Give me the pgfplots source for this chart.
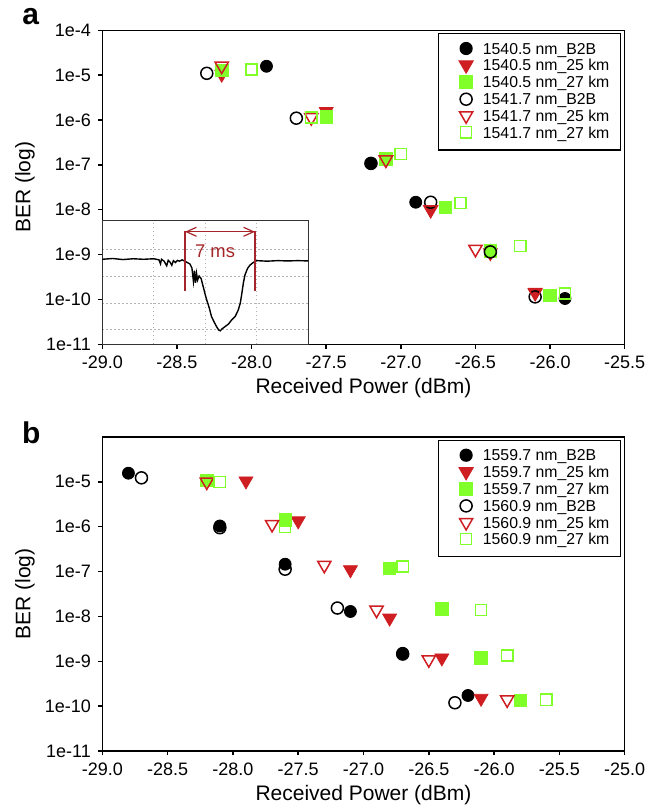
\documentclass[border=0pt]{standalone}
\usepackage{fontspec}
\setmainfont{Liberation Sans}
\usepackage{pgfplots}
\pgfplotsset{compat=1.18}
\usetikzlibrary{arrows.meta}

\definecolor{berred}{RGB}{206,30,34}
\definecolor{bergreen}{RGB}{128,255,40}
\definecolor{annotred}{RGB}{165,38,42}

\begin{document}
\begin{tikzpicture}
\path[use as bounding box] (0pt,0pt) rectangle (330pt,-404pt);

% ---- panel a ----
\begin{axis}[
  scale only axis, width=261.2pt, height=157pt,
  at={(51.15pt,-172.15pt)}, anchor=south west,
  ymode=log, ymin=1e-11, ymax=1e-4,
  yminorticks=false,
  xmin=-29, xmax=-25.5,
  xtick={-29,-28.5,-28,-27.5,-27,-26.5,-26,-25.5},
  xticklabels={-29.0,-28.5,-28.0,-27.5,-27.0,-26.5,-26.0,-25.5},
  ytick={1e-11,1e-10,1e-9,1e-8,1e-7,1e-6,1e-5,1e-4},
  yticklabels={1e-11,1e-10,1e-9,1e-8,1e-7,1e-6,1e-5,1e-4},
  axis line style={line width=0.75pt},
  tick align=outside, tick pos=left,
  major tick length=2.2pt,
  tick style={line width=0.75pt, black},
  tick label style={font=\fontsize{9}{10}\selectfont},
  label style={font=\fontsize{10.5}{12}\selectfont},
  xlabel={Received Power (dBm)}, ylabel={BER (log)},
  xlabel style={at={(axis description cs:0.5,-0.14)}, anchor=center},
  ylabel style={at={(axis description cs:-0.148,0.5)}, anchor=center},
  legend cell align=left,
  legend image code/.code={%
    \path[draw=none, fill=none] (-8.3pt,-1.7pt) rectangle (4pt,3.3pt);
    \draw[#1] plot coordinates {(0pt,0.8pt)};},
  legend style={at={(1,1)}, anchor=north east, xshift=-1.85pt, yshift=-1.4pt,
    draw=black, line width=0.6pt, fill=white,
    inner xsep=5.5pt, inner ysep=4.4pt, row sep=1.1pt,
    nodes={inner sep=0pt},
    /tikz/every odd column/.append style={column sep=4.4pt},
    font=\fontsize{7.9}{8.4}\selectfont},
]
\addplot[only marks, mark=*, mark size=3pt, mark options={draw=black, fill=black}]
  coordinates {(-27.9,1.58e-5) (-27.2,1.08e-7) (-26.9,1.47e-8) (-26.4,1.25e-9) (-25.9,1.05e-10)};
\addlegendentry{1540.5 nm\_B2B}
\addplot[only marks, mark=triangle*, mark size=4pt, mark options={rotate=180, draw=berred, fill=berred}]
  coordinates {(-28.2,1.05e-5) (-27.5,1.55e-6) (-27.1,1.3e-7) (-26.8,1.0e-8) (-26.4,1.1e-9) (-26.1,1.45e-10)};
\addlegendentry{1540.5 nm\_25 km}
\addplot[only marks, mark=square*, mark size=3.1pt, mark options={draw=bergreen, fill=bergreen}]
  coordinates {(-28.2,1.27e-5) (-27.5,1.17e-6) (-27.1,1.35e-7) (-26.7,1.13e-8) (-26.4,1.2e-9) (-26.0,1.25e-10)};
\addlegendentry{1540.5 nm\_27 km}
\addplot[only marks, mark=o, mark size=3pt, mark options={draw=black, line width=0.75pt}]
  coordinates {(-28.3,1.1e-5) (-27.7,1.1e-6) (-27.2,1.08e-7) (-26.8,1.47e-8) (-26.4,1.15e-9) (-26.1,1.14e-10)};
\addlegendentry{1541.7 nm\_B2B}
\addplot[only marks, mark=triangle, mark size=3.8pt, mark options={rotate=180, draw=berred, line width=0.75pt}]
  coordinates {(-28.2,1.6e-5) (-27.6,1.14e-6) (-27.1,1.3e-7) (-26.8,1.0e-8) (-26.5,1.32e-9) (-26.1,1.4e-10)};
\addlegendentry{1541.7 nm\_25 km}
\addplot[only marks, mark=square, mark size=2.8pt, mark options={draw=bergreen, line width=0.75pt}]
  coordinates {(-28.0,1.34e-5) (-27.6,1.14e-6) (-27.0,1.74e-7) (-26.6,1.41e-8) (-26.2,1.56e-9) (-25.9,1.35e-10)};
\addlegendentry{1541.7 nm\_27 km}
\end{axis}

% ---- inset trace ----
\begin{axis}[
  scale only axis, width=103pt, height=61.8pt,
  at={(51.15pt,-172.15pt)}, anchor=south west,
  xmin=0, xmax=4, ymin=0.47, ymax=5.05,
  xtick={1,2,3}, ytick={1,2,3,4},
  xticklabels={}, yticklabels={},
  major tick length=0pt,
  grid=major, grid style={gray!60, dash pattern=on 0.6pt off 1.4pt, line width=0.5pt},
  axis line style={black!80, line width=0.6pt},
  axis background/.style={fill=white},
]
\addplot[black, line width=0.7pt] coordinates {
  (0,3.62) (0.2,3.65) (0.4,3.61) (0.6,3.64) (0.8,3.62) (1.0,3.64) (1.1,3.60)
  (1.13,3.45) (1.15,3.62) (1.2,3.55) (1.25,3.38) (1.28,3.58) (1.32,3.50)
  (1.35,3.40) (1.38,3.57) (1.42,3.50) (1.46,3.58) (1.5,3.55) (1.55,3.60)
  (1.6,3.55) (1.65,3.50) (1.70,3.45) (1.74,3.30) (1.77,2.80) (1.79,3.20)
  (1.81,2.75) (1.83,3.10) (1.85,2.85) (1.88,3.00) (1.92,2.90) (1.96,2.60)
  (2.0,2.30) (2.03,2.10) (2.08,1.80) (2.12,1.50) (2.17,1.30) (2.22,1.12)
  (2.26,1.00) (2.29,0.97) (2.33,1.05) (2.38,1.12) (2.45,1.22) (2.51,1.37)
  (2.58,1.50) (2.64,1.74) (2.68,2.0) (2.71,2.36) (2.74,2.75) (2.77,3.04)
  (2.82,3.28) (2.87,3.41) (2.93,3.50) (3.0,3.57) (3.2,3.55) (3.4,3.57)
  (3.6,3.56) (3.8,3.57) (4.0,3.56)};
\draw[annotred, line width=0.6pt] (axis cs:1.606,2.44) -- (axis cs:1.606,4.68);
\draw[annotred, line width=0.6pt] (axis cs:2.965,2.44) -- (axis cs:2.965,4.68);
\draw[annotred, line width=0.6pt,
  {Straight Barb[length=5pt,width=4.5pt]}-{Straight Barb[length=5pt,width=4.5pt]}]
  (axis cs:1.606,4.64) -- (axis cs:2.965,4.64);
\node[annotred, font=\fontsize{9.2}{10}\selectfont] at (axis cs:2.19,3.9) {7 ms};
\end{axis}

% ---- panel b ----
\begin{axis}[
  scale only axis, width=261.2pt, height=157pt,
  at={(51.15pt,-375.5pt)}, anchor=south west,
  ymode=log, ymin=1e-11, ymax=1e-4,
  yminorticks=false,
  xmin=-29, xmax=-25,
  xtick={-29,-28.5,-28,-27.5,-27,-26.5,-26,-25.5,-25},
  xticklabels={-29.0,-28.5,-28.0,-27.5,-27.0,-26.5,-26.0,-25.5,-25.0},
  ytick={1e-11,1e-10,1e-9,1e-8,1e-7,1e-6,1e-5},
  yticklabels={1e-11,1e-10,1e-9,1e-8,1e-7,1e-6,1e-5},
  axis line style={line width=0.75pt},
  tick align=outside, tick pos=left,
  major tick length=2.2pt,
  tick style={line width=0.75pt, black},
  tick label style={font=\fontsize{9}{10}\selectfont},
  label style={font=\fontsize{10.5}{12}\selectfont},
  xlabel={Received Power (dBm)}, ylabel={BER (log)},
  xlabel style={at={(axis description cs:0.5,-0.14)}, anchor=center},
  ylabel style={at={(axis description cs:-0.148,0.5)}, anchor=center},
  legend cell align=left,
  legend image code/.code={%
    \path[draw=none, fill=none] (-8.3pt,-1.7pt) rectangle (4pt,3.3pt);
    \draw[#1] plot coordinates {(0pt,0.8pt)};},
  legend style={at={(1,1)}, anchor=north east, xshift=-1.85pt, yshift=-1.4pt,
    draw=black, line width=0.6pt, fill=white,
    inner xsep=5.5pt, inner ysep=4.4pt, row sep=1.1pt,
    nodes={inner sep=0pt},
    /tikz/every odd column/.append style={column sep=4.4pt},
    font=\fontsize{7.9}{8.4}\selectfont},
]
\addplot[only marks, mark=*, mark size=3pt, mark options={draw=black, fill=black}]
  coordinates {(-28.8,1.56e-5) (-28.1,1.04e-6) (-27.6,1.46e-7) (-27.1,1.29e-8) (-26.7,1.51e-9) (-26.2,1.73e-10)};
\addlegendentry{1559.7 nm\_B2B}
\addplot[only marks, mark=triangle*, mark size=4pt, mark options={rotate=180, draw=berred, fill=berred}]
  coordinates {(-27.9,1.05e-5) (-27.5,1.35e-6) (-27.1,1.1e-7) (-26.8,9.2e-9) (-26.4,1.19e-9) (-26.1,1.5e-10)};
\addlegendentry{1559.7 nm\_25 km}
\addplot[only marks, mark=square*, mark size=3.1pt, mark options={draw=bergreen, fill=bergreen}]
  coordinates {(-28.2,1.07e-5) (-27.6,1.41e-6) (-26.8,1.19e-7) (-26.4,1.46e-8) (-26.1,1.19e-9) (-25.8,1.34e-10)};
\addlegendentry{1559.7 nm\_27 km}
\addplot[only marks, mark=o, mark size=3pt, mark options={draw=black, line width=0.75pt}]
  coordinates {(-28.7,1.23e-5) (-28.1,0.95e-6) (-27.6,1.13e-7) (-27.2,1.54e-8) (-26.7,1.45e-9) (-26.3,1.19e-10)};
\addlegendentry{1560.9 nm\_B2B}
\addplot[only marks, mark=triangle, mark size=3.8pt, mark options={rotate=180, draw=berred, line width=0.75pt}]
  coordinates {(-28.2,1.0e-5) (-27.7,1.13e-6) (-27.3,1.39e-7) (-26.9,1.39e-8) (-26.5,1.09e-9) (-25.9,1.39e-10)};
\addlegendentry{1560.9 nm\_25 km}
\addplot[only marks, mark=square, mark size=2.8pt, mark options={draw=bergreen, line width=0.75pt}]
  coordinates {(-28.1,1.0e-5) (-27.6,0.98e-6) (-26.7,1.29e-7) (-26.1,1.39e-8) (-25.9,1.34e-9) (-25.6,1.39e-10)};
\addlegendentry{1560.9 nm\_27 km}
\end{axis}

\node[font=\bfseries\fontsize{15}{15}\selectfont, anchor=base] at (15.3pt,-12.5pt) {a};
\node[font=\bfseries\fontsize{15}{15}\selectfont, anchor=base] at (15.6pt,-221.7pt) {b};
\end{tikzpicture}
\end{document}
